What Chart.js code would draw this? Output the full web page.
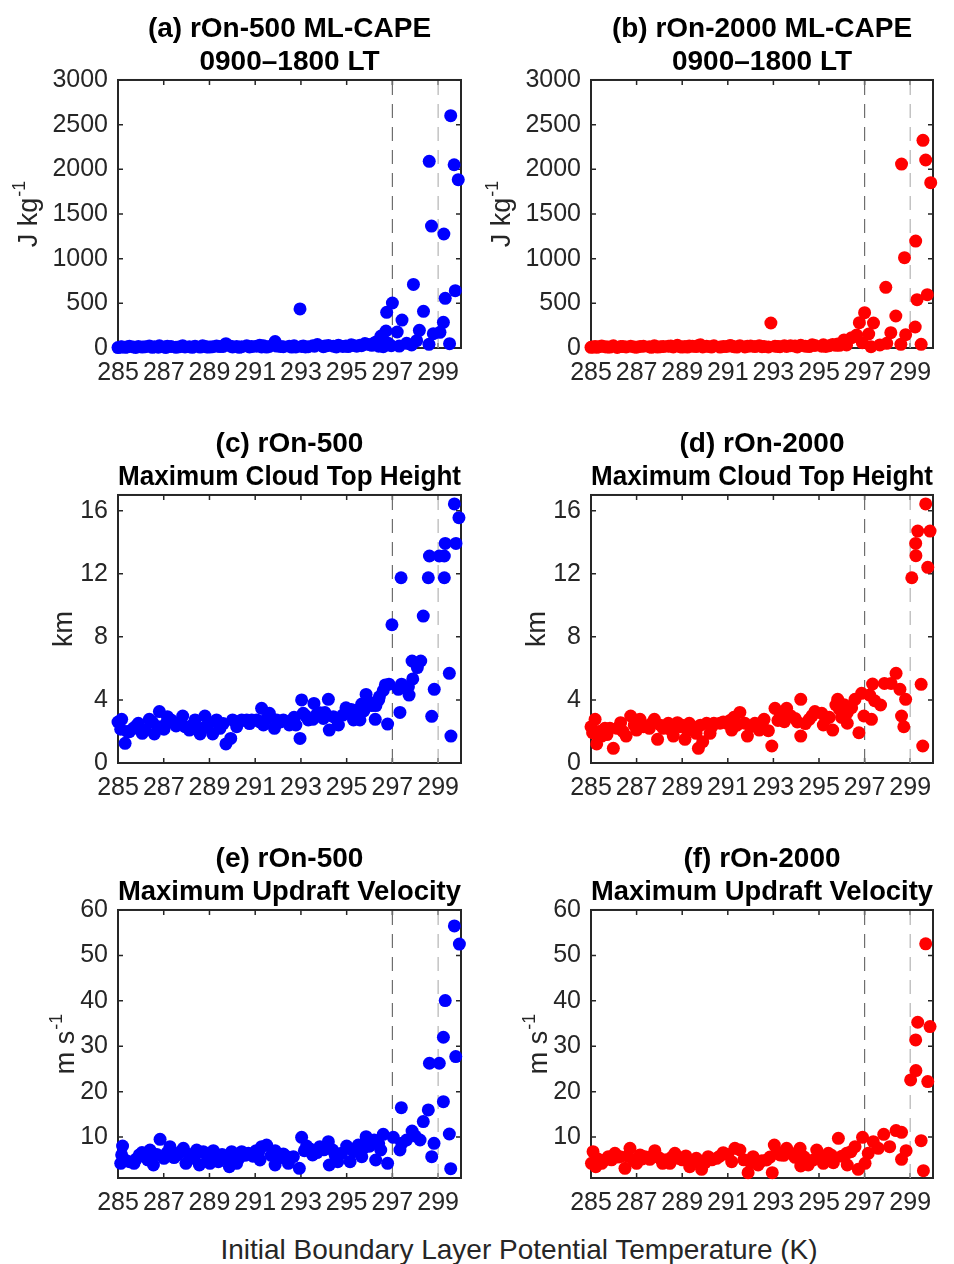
<!DOCTYPE html>
<html>
<head>
<meta charset="utf-8">
<script src="https://cdn.jsdelivr.net/npm/chart.js@4.4.1/dist/chart.umd.min.js"></script>
<style>
  body { margin: 0; background: #fff; }
  #wrap { position: relative; width: 954px; height: 1264px; overflow: hidden; }
  canvas { position: absolute; }
  #xlabel {
    position: absolute; left: 519px; top: 1234px; transform: translateX(-50%);
    white-space: nowrap; font: 28px "Liberation Sans", Arial, sans-serif; line-height: 32px; color: #262626;
  }
</style>
</head>
<body>
<div id="wrap">
  <canvas id="ca" width="477" height="400" style="left:0;top:0;width:477px;height:400px"></canvas>
  <canvas id="cb" width="477" height="400" style="left:477px;top:0;width:477px;height:400px"></canvas>
  <canvas id="cc" width="477" height="400" style="left:0;top:415px;width:477px;height:400px"></canvas>
  <canvas id="cd" width="477" height="400" style="left:477px;top:415px;width:477px;height:400px"></canvas>
  <canvas id="ce" width="477" height="400" style="left:0;top:830px;width:477px;height:400px"></canvas>
  <canvas id="cf" width="477" height="400" style="left:477px;top:830px;width:477px;height:400px"></canvas>
  <div id="xlabel">Initial Boundary Layer Potential Temperature (K)</div>
</div>
<script>
// tick values
const xTicks = [285, 287, 289, 291, 293, 295, 297, 299];
const capeTicks = [0, 500, 1000, 1500, 2000, 2500, 3000];
const cthTicks = [0, 4, 8, 12, 16];
const wTicks = [10, 20, 30, 40, 50, 60];
const thresholds = [297, 299];

// (a) rOn-500 ML-CAPE (J/kg)
const aX = [285.12, 285.16, 285.31, 285.5, 285.67, 285.89, 286.06, 286.37, 286.59, 286.76, 286.81, 287.01, 287.16, 287.32, 287.54, 287.83, 287.93, 288.12, 288.37, 288.59, 288.8, 288.88, 289.14, 289.31, 289.46, 289.72, 289.93, 290.01, 290.19, 290.41, 290.63, 290.85, 291.06, 291.28, 291.36, 291.62, 291.87, 291.94, 292.23, 292.49, 292.7, 292.78, 292.96, 293.03, 293.1, 293.32, 293.52, 293.72, 293.98, 294.2, 294.42, 294.64, 294.83, 294.97, 295.07, 295.3, 295.44, 295.58, 295.8, 296.1,
  296.31, 296.5, 296.6, 296.72, 296.75, 296.82, 296.95, 297.0, 297.21, 297.3, 297.42, 297.62, 297.84, 297.92, 298.06, 298.18, 298.36, 298.6, 298.61, 298.71, 298.79, 299.08, 299.23, 299.25, 299.31, 299.5, 299.55, 299.7, 299.75, 299.88,
  285.0, 285.4, 285.78, 286.2, 286.5, 287.1, 287.7, 288.25, 288.7, 289.0, 289.6, 290.3, 290.75, 291.2, 291.5, 292.1, 292.6, 293.2, 293.6, 294.05, 294.55, 295.2, 295.65, 295.95, 296.2, 296.4];
const aY = [10, 15, 8, 20, 12, 18, 10, 22, 14, 9, 25, 12, 20, 16, 8, 24, 12, 15, 20, 10, 18, 12, 14, 22, 16, 48, 20, 12, 18, 14, 24, 16, 20, 12, 26, 18, 72, 22, 14, 20, 25, 12, 437, 18, 22, 15, 25, 38, 14, 28, 20, 32, 18, 22, 16, 28, 20, 30, 50, 30,
  71, 134, 15, 190, 399, 52, 25, 504, 179, 22, 313, 52, 34, 712, 82, 198, 410, 41, 2089, 1365, 160, 175, 287, 1276, 556, 48, 2600, 2051, 642, 1884,
  5, 12, 6, 15, 8, 6, 14, 8, 25, 10, 18, 8, 12, 30, 10, 18, 10, 12, 20, 22, 12, 35, 25, 40, 55, 20];

// (b) rOn-2000 ML-CAPE (J/kg)
const bX = [285.07, 285.18, 285.25, 285.47, 285.61, 285.83, 285.98, 286.3, 286.54, 286.74, 287.0, 287.15, 287.56, 287.78, 287.92, 288.17, 288.39, 288.61, 288.79, 288.9, 289.12, 289.23, 289.31, 289.61, 289.71, 289.9, 290.07, 290.22, 290.39, 290.66, 290.95, 291.17, 291.27, 291.53, 291.75, 291.86, 292.19, 292.38, 292.59, 292.78, 292.89, 293.07, 293.29, 293.48, 293.58, 293.95, 294.2, 294.57, 294.82, 295.12, 295.19, 295.45, 295.6, 295.74, 295.82, 295.99, 296.21,
  296.43, 296.65, 296.77, 296.9, 297.0, 297.18, 297.28, 297.39, 297.67, 297.93, 297.97, 298.15, 298.37, 298.59, 298.62, 298.75, 298.8, 299.22, 299.24, 299.3, 299.48, 299.56, 299.68, 299.75, 299.9,
  285.0, 285.35, 285.72, 286.15, 286.4, 286.9, 287.3, 287.65, 288.05, 288.5, 289.0, 289.45, 289.8, 290.3, 290.8, 291.1, 291.4, 292.0, 292.5, 293.2, 293.75, 294.05, 294.4, 294.7, 295.3, 295.9, 296.1];
const bY = [12, 18, 8, 22, 14, 10, 25, 16, 12, 20, 9, 18, 14, 24, 10, 16, 20, 12, 30, 14, 18, 10, 22, 16, 28, 12, 20, 15, 24, 10, 18, 22, 14, 26, 12, 20, 16, 24, 18, 12, 280, 20, 14, 25, 18, 22, 30, 16, 28, 20, 35, 25, 40, 30, 45, 50, 34,
  116, 145, 283, 60, 395, 157, 15, 280, 34, 679, 52, 172, 358, 41, 2059, 1011, 149, 235, 1197, 541, 41, 2324, 2104, 597, 1850,
  8, 15, 10, 6, 18, 12, 20, 8, 14, 22, 10, 20, 35, 12, 16, 28, 10, 22, 14, 18, 26, 12, 20, 35, 18, 30, 90];

// (c) rOn-500 maximum cloud top height (km)
const cX = [285.12, 285.16, 285.31, 285.5, 285.67, 285.89, 286.06, 286.37, 286.59, 286.76, 286.81, 287.01, 287.16, 287.32, 287.54, 287.83, 287.93, 288.12, 288.37, 288.59, 288.8, 288.88, 289.14, 289.31, 289.46, 289.72, 289.93, 290.01, 290.19, 290.41, 290.63, 290.85, 291.06, 291.28, 291.36, 291.62, 291.84, 291.94, 292.23, 292.49, 292.7, 292.78, 292.96, 293.03, 293.1, 293.32, 293.52, 293.57, 293.83, 293.98, 294.2, 294.24, 294.42, 294.64, 294.83, 294.97, 295.07, 295.3, 295.44, 295.58, 295.66, 295.85, 296.1, 296.25, 296.28, 296.43, 296.69, 296.79, 296.85,
  296.98, 297.26, 297.33, 297.38, 297.4, 297.7, 297.73, 297.86, 297.89, 298.09, 298.24, 298.35, 298.57, 298.62, 298.72, 298.83, 299.05, 299.27, 299.27, 299.31, 299.49, 299.56, 299.71, 299.78, 299.91,
  285.0, 285.4, 285.8, 286.2, 286.5, 287.1, 287.7, 288.25, 288.7, 289.0, 289.6, 290.3, 290.75, 291.2, 291.5, 292.1, 292.6, 293.2, 293.7, 294.05, 294.55, 295.2, 295.75, 295.95, 296.4, 296.6];
const cY = [2.14, 2.77, 1.25, 1.99, 2.2, 2.52, 1.88, 2.77, 1.84, 2.3, 3.26, 2.14, 2.94, 2.73, 2.35, 2.98, 2.3, 2.09, 2.73, 1.84, 2.98, 2.3, 1.84, 2.73, 2.2, 1.21, 1.56, 2.73, 2.3, 2.73, 2.73, 2.73, 2.73, 3.47, 2.41, 3.15, 2.2, 2.73, 2.73, 2.41, 2.9, 2.41, 1.56, 4.0, 3.15, 2.73, 2.77, 3.78, 3.19, 2.83, 4.04, 2.09, 2.94, 2.41, 3.04, 3.5, 3.15, 2.73, 3.36, 2.73, 3.74, 4.35, 3.64, 2.77, 3.64, 4.2, 4.95, 2.47, 5.0,
  8.77, 4.67, 3.21, 11.75, 5.0, 4.84, 4.31, 6.47, 5.33, 6.05, 6.47, 9.32, 11.75, 13.13, 2.96, 4.67, 13.13, 13.13, 11.75, 13.93, 5.69, 1.71, 16.43, 13.93, 15.56,
  2.6, 2.0, 2.35, 2.1, 2.6, 2.5, 2.6, 2.4, 2.2, 2.55, 2.5, 2.6, 2.5, 2.6, 2.8, 2.6, 2.7, 3.0, 3.1, 3.2, 2.8, 3.4, 3.3, 3.9, 4.0, 4.6];

// (d) rOn-2000 maximum cloud top height (km)
const dX = [285.07, 285.18, 285.25, 285.47, 285.61, 285.83, 285.98, 286.3, 286.54, 286.74, 287.0, 287.15, 287.56, 287.78, 287.92, 288.17, 288.39, 288.61, 288.79, 288.9, 289.12, 289.23, 289.31, 289.61, 289.71, 289.9, 290.07, 290.22, 290.39, 290.66, 290.95, 291.17, 291.27, 291.53, 291.75, 291.86, 292.19, 292.38, 292.59, 292.78, 292.93, 293.07, 293.29, 293.48, 293.58, 293.95, 294.2, 294.2, 294.57, 294.82, 295.12, 295.19, 295.45, 295.6, 295.74, 295.82, 295.99, 296.24, 296.24, 296.43, 296.58, 296.75, 296.87, 296.97,
  297.22, 297.3, 297.35, 297.44, 297.7, 297.87, 298.16, 298.38, 298.55, 298.62, 298.72, 298.8, 299.07, 299.24, 299.25, 299.33, 299.48, 299.55, 299.68, 299.77, 299.87,
  285.0, 285.35, 285.7, 286.15, 286.4, 286.9, 287.3, 287.65, 288.05, 288.5, 289.0, 289.45, 289.8, 290.3, 290.8, 291.1, 291.4, 292.0, 292.5, 293.2, 293.75, 294.05, 294.4, 294.7, 295.3, 295.9, 296.1];
const dY = [1.92, 2.77, 1.21, 1.71, 2.2, 2.2, 0.93, 2.56, 1.71, 2.98, 2.09, 2.77, 2.2, 2.77, 1.5, 2.2, 2.52, 1.71, 2.56, 2.3, 1.5, 2.05, 2.52, 1.88, 0.93, 1.35, 2.52, 1.88, 2.52, 2.52, 2.52, 2.09, 2.9, 3.21, 2.52, 1.71, 2.52, 2.09, 2.77, 2.05, 1.08, 3.47, 3.15, 2.62, 3.47, 2.83, 4.04, 1.71, 2.77, 3.26, 3.15, 2.41, 2.9, 2.09, 3.68, 4.04, 2.9, 3.19, 2.52, 3.51, 4.04, 1.92, 4.42, 2.98,
  4.31, 2.77, 5.01, 3.95, 3.68, 5.05, 5.05, 5.69, 4.67, 2.98, 2.3, 4.04, 11.75, 13.93, 13.15, 14.71, 4.99, 1.08, 16.43, 12.41, 14.71,
  2.3, 2.0, 1.8, 2.2, 2.0, 2.4, 2.3, 2.5, 2.4, 2.1, 2.4, 2.3, 2.4, 2.3, 2.6, 2.7, 2.4, 2.3, 2.4, 2.7, 3.0, 2.6, 2.5, 3.0, 2.8, 3.4, 3.7];

// (e) rOn-500 maximum updraft velocity (m/s)
const eX = [285.12, 285.16, 285.2, 285.5, 285.7, 285.93, 286.18, 286.4, 286.55, 286.84, 287.01, 287.27, 287.59, 287.86, 287.97, 288.22, 288.44, 288.56, 288.73, 289.02, 289.17, 289.39, 289.72, 289.87, 289.97, 290.19, 290.41, 290.7, 291.04, 291.21, 291.28, 291.5, 291.87, 291.87, 292.23, 292.45, 292.67, 292.93, 293.03, 293.25, 293.51, 293.83, 294.2, 294.24, 294.39, 294.61, 294.78, 295.0, 295.15, 295.51, 295.66, 295.85, 296.2, 296.27, 296.49, 296.6, 296.79,
  297.04, 297.33, 297.39, 297.41, 297.62, 297.86, 298.0, 298.21, 298.35, 298.57, 298.62, 298.72, 298.82, 299.05, 299.23, 299.23, 299.31, 299.49, 299.55, 299.71, 299.77, 299.93,
  285.3, 285.8, 286.05, 286.3, 286.7, 287.15, 287.45, 287.75, 288.1, 288.35, 288.9, 289.3, 289.55, 290.05, 290.3, 290.55, 290.9, 291.15, 291.7, 292.05, 292.35, 293.15, 293.4, 293.7, 294.0, 294.5, 295.3, 295.75, 296.0, 296.4];
const eY = [4.23, 6.07, 8.05, 4.6, 4.23, 6.07, 5.7, 7.17, 3.86, 9.52, 5.33, 7.9, 6.07, 7.53, 4.23, 5.33, 7.17, 3.86, 6.8, 4.23, 7.02, 4.6, 5.33, 3.5, 6.8, 4.23, 6.8, 6.43, 7.02, 4.96, 7.9, 8.27, 7.02, 3.86, 6.29, 4.23, 5.7, 3.13, 9.96, 8.05, 6.07, 7.9, 9.0, 3.86, 7.17, 4.6, 6.43, 8.05, 4.6, 8.27, 5.7, 10.1, 9.37, 4.96, 7.17, 10.62, 4.23,
  9.96, 7.17, 16.49, 8.64, 9.37, 11.35, 10.25, 9.37, 13.41, 15.98, 26.26, 5.7, 8.64, 26.26, 31.98, 17.81, 40.06, 10.69, 3.06, 56.5, 27.73, 52.5,
  5.0, 5.2, 6.6, 5.0, 6.2, 6.6, 5.5, 6.8, 6.2, 5.6, 5.8, 6.0, 6.2, 5.6, 5.4, 6.0, 5.8, 6.6, 6.0, 5.4, 5.8, 7.0, 7.4, 6.6, 7.2, 6.0, 6.8, 7.6, 8.0, 8.6];

// (f) rOn-2000 maximum updraft velocity (m/s)
const fX = [285.02, 285.09, 285.21, 285.47, 285.61, 285.76, 286.05, 286.27, 286.49, 286.71, 287.0, 287.15, 287.36, 287.58, 287.8, 288.14, 288.46, 288.68, 288.83, 289.16, 289.33, 289.62, 289.85, 290.14, 290.51, 290.8, 291.17, 291.31, 291.53, 291.89, 292.11, 292.33, 292.7, 292.95, 293.04, 293.29, 293.58, 293.95, 294.17, 294.2, 294.53, 294.75, 294.9, 295.19, 295.41, 295.63, 295.85, 296.21, 296.24, 296.58, 296.72, 296.91,
  297.02, 297.16, 297.38, 297.6, 297.84, 298.1, 298.38, 298.62, 298.62, 298.82, 299.02, 299.24, 299.25, 299.33, 299.48, 299.58, 299.68, 299.77, 299.87,
  285.3, 285.9, 286.15, 286.6, 286.85, 287.25, 287.7, 288.0, 288.3, 288.55, 289.0, 289.45, 289.75, 290.0, 290.3, 290.65, 291.0, 291.7, 292.0, 292.5, 292.85, 293.15, 293.45, 293.8, 294.0, 294.35, 295.0, 295.3, 295.55, 296.0, 296.4];
const fY = [4.23, 6.8, 3.5, 4.23, 4.96, 5.7, 6.43, 5.7, 3.13, 7.53, 4.23, 6.07, 5.7, 5.11, 7.02, 4.23, 4.23, 6.43, 5.33, 5.85, 3.5, 5.33, 2.91, 5.7, 5.33, 6.58, 4.6, 7.53, 7.17, 2.17, 5.7, 3.86, 4.96, 2.17, 8.27, 6.07, 7.53, 5.55, 7.53, 3.64, 3.86, 4.96, 7.17, 4.23, 6.43, 4.38, 9.74, 6.43, 3.86, 7.9, 2.91, 9.96,
  4.23, 6.43, 9.0, 7.53, 10.62, 7.9, 11.43, 11.06, 5.11, 7.02, 22.59, 31.4, 24.64, 35.29, 9.22, 2.62, 52.54, 22.22, 34.33,
  5.2, 5.0, 5.6, 5.8, 5.0, 5.2, 5.9, 5.4, 5.0, 5.6, 5.0, 4.6, 4.8, 4.4, 5.0, 5.8, 6.2, 5.0, 4.4, 4.8, 5.6, 6.8, 6.0, 6.4, 6.2, 5.6, 5.8, 5.6, 6.0, 5.8, 6.8];

const FONT = '"Liberation Sans", Arial, Helvetica, sans-serif';
Chart.defaults.font.family = FONT;
Chart.defaults.color = '#262626';

// MATLAB-like box with inward ticks on all four sides
const boxPlugin = {
  id: 'box',
  beforeDatasetsDraw(chart) {
    const { ctx, chartArea: a, scales } = chart;
    ctx.save();
    ctx.strokeStyle = '#262626';
    ctx.lineWidth = 1.5;
    ctx.beginPath();
    scales.x.ticks.forEach(t => {
      const p = scales.x.getPixelForValue(t.value);
      ctx.moveTo(p, a.bottom); ctx.lineTo(p, a.bottom - 5);
      ctx.moveTo(p, a.top); ctx.lineTo(p, a.top + 5);
    });
    scales.y.ticks.forEach(t => {
      const p = scales.y.getPixelForValue(t.value);
      ctx.moveTo(a.left, p); ctx.lineTo(a.left + 5, p);
      ctx.moveTo(a.right, p); ctx.lineTo(a.right - 5, p);
    });
    ctx.stroke();
    ctx.lineWidth = 2;
    ctx.strokeRect(a.left, a.top, a.right - a.left, a.bottom - a.top);
    ctx.restore();
  }
};

// rotated y label with a superscript
const yLabelPlugin = {
  id: 'yLabel',
  afterDraw(chart, args, opts) {
    const { ctx, chartArea: a } = chart;
    ctx.save();
    ctx.fillStyle = '#262626';
    ctx.translate(a.left - opts.gap, (a.top + a.bottom) / 2);
    ctx.rotate(-Math.PI / 2);
    ctx.textBaseline = 'alphabetic';
    ctx.font = '27px ' + FONT;
    const w1 = ctx.measureText(opts.text).width;
    ctx.font = '18px ' + FONT;
    const w2 = opts.sup ? ctx.measureText(opts.sup).width + 1 : 0;
    const sx = -(w1 + w2) / 2;
    ctx.font = '27px ' + FONT;
    ctx.fillText(opts.text, sx, 0);
    if (opts.sup) {
      ctx.font = '18px ' + FONT;
      ctx.fillText(opts.sup, sx + w1 + 1, -12);
    }
    ctx.restore();
  }
};

function pts(xs, ys) {
  return xs.map((x, i) => ({ x: x, y: ys[i] }));
}

function makePanel(id, p) {
  const lines = thresholds.map((t, i) => ({
    data: [{ x: t, y: p.yMin }, { x: t, y: p.yMax }],
    showLine: true,
    borderColor: i === 0 ? '#6e6e6e' : '#b4b4b4',
    borderWidth: 1.2,
    borderDash: [14, 9],
    pointRadius: 0
  }));
  new Chart(document.getElementById(id).getContext('2d'), {
    type: 'scatter',
    data: {
      datasets: [{
        data: pts(p.xs, p.ys),
        backgroundColor: p.color,
        borderWidth: 0,
        pointRadius: 6.5,
        pointHoverRadius: 6.5,
        clip: false
      }].concat(lines)
    },
    options: {
      responsive: false,
      devicePixelRatio: 1,
      animation: false,
      events: [],
      layout: { padding: { left: 0, top: 0, bottom: 0, right: p.padRight } },
      scales: {
        x: {
          type: 'linear', min: 285, max: 300,
          afterBuildTicks: s => { s.ticks = xTicks.map(v => ({ value: v })); },
          afterFit: s => { s.height = 52; },
          grid: { display: false, drawTicks: false },
          border: { display: false },
          ticks: { autoSkip: false, maxRotation: 0, minRotation: 0, padding: 10, color: '#262626', font: { size: 25 }, callback: v => String(v) }
        },
        y: {
          type: 'linear', min: p.yMin, max: p.yMax,
          afterBuildTicks: s => { s.ticks = p.yTicks.map(v => ({ value: v })); },
          afterFit: s => { s.width = p.axisW; },
          grid: { display: false, drawTicks: false },
          border: { display: false },
          ticks: { autoSkip: false, padding: 10, color: '#262626', font: { size: 25 }, callback: v => String(v) }
        }
      },
      plugins: {
        legend: { display: false },
        tooltip: { enabled: false },
        title: {
          display: true,
          fullSize: false,
          text: p.title,
          color: '#000',
          font: { size: 28, weight: 'bold', lineHeight: 1.18 },
          padding: { top: 12.5, bottom: 1.4 }
        },
        yLabel: { text: p.label, sup: p.sup, gap: p.gap }
      }
    },
    plugins: [boxPlugin, yLabelPlugin]
  });
}

const left = { axisW: 118, padRight: 16 };
const right = { axisW: 114, padRight: 21 };

makePanel('ca', Object.assign({ xs: aX, ys: aY, color: '#0000ff', yMin: 0, yMax: 3000, yTicks: capeTicks,
  title: ['(a) rOn-500 ML-CAPE', '0900\u20131800 LT'], label: 'J kg', sup: '-1', gap: 81 }, left));
makePanel('cb', Object.assign({ xs: bX, ys: bY, color: '#ff0000', yMin: 0, yMax: 3000, yTicks: capeTicks,
  title: ['(b) rOn-2000 ML-CAPE', '0900\u20131800 LT'], label: 'J kg', sup: '-1', gap: 81 }, right));
makePanel('cc', Object.assign({ xs: cX, ys: cY, color: '#0000ff', yMin: 0, yMax: 17, yTicks: cthTicks,
  title: ['(c) rOn-500', 'Maximum Cloud Top Height'], label: 'km', sup: '', gap: 46 }, left));
makePanel('cd', Object.assign({ xs: dX, ys: dY, color: '#ff0000', yMin: 0, yMax: 17, yTicks: cthTicks,
  title: ['(d) rOn-2000', 'Maximum Cloud Top Height'], label: 'km', sup: '', gap: 46 }, right));
makePanel('ce', Object.assign({ xs: eX, ys: eY, color: '#0000ff', yMin: 1, yMax: 60, yTicks: wTicks,
  title: ['(e) rOn-500', 'Maximum Updraft Velocity'], label: 'm s', sup: '-1', gap: 44 }, left));
makePanel('cf', Object.assign({ xs: fX, ys: fY, color: '#ff0000', yMin: 1, yMax: 60, yTicks: wTicks,
  title: ['(f) rOn-2000', 'Maximum Updraft Velocity'], label: 'm s', sup: '-1', gap: 44 }, right));
</script>
</body>
</html>
